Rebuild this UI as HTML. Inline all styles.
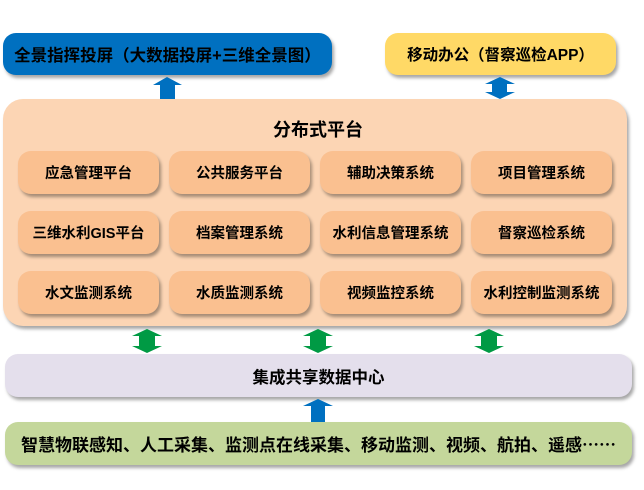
<!DOCTYPE html>
<html><head><meta charset="utf-8">
<style>
html,body{margin:0;padding:0;background:#fff;}
body{width:644px;height:490px;position:relative;overflow:hidden;font-family:"Liberation Sans","Noto Sans CJK SC",sans-serif;font-weight:bold;color:#000;}
.b{position:absolute;box-sizing:border-box;display:flex;align-items:center;justify-content:center;box-shadow:2px 3px 3px rgba(0,0,0,0.35);white-space:nowrap;}
.top1{left:3px;top:33px;width:329px;height:42px;background:#0070C0;border-radius:13px;font-size:16.5px;}
.top2{left:385px;top:33px;width:231px;height:42px;background:#FFD966;border-radius:13px;font-size:15.5px;}
.outer{left:3px;top:99px;width:624px;height:227px;background:#FCD5B4;border-radius:20px;}
.title{position:absolute;left:0;width:636px;top:116px;text-align:center;font-size:18px;}
.in{width:141px;height:43px;background:#FAC090;border-radius:13px;font-size:14.5px;}
.purple{left:5px;top:354px;width:627px;height:43px;background:#E4DFEC;border-radius:13px;font-size:16.5px;}
.green{left:5px;top:422px;width:627px;height:43px;background:#C4D79B;border-radius:13px;font-size:17px;}
.cjk{font-family:"Noto Sans CJK SC",sans-serif;}
svg{position:absolute;left:0;top:0;}
</style></head><body>
<div class="b top1">全景指挥投屏（大数据投屏+三维全景图）</div>
<div class="b top2">移动办公（督察巡检APP）</div>
<div class="b outer"></div>
<div class="title">分布式平台</div>

<div class="b in" style="left:18px;top:151px;">应急管理平台</div>
<div class="b in" style="left:169px;top:151px;">公共服务平台</div>
<div class="b in" style="left:320px;top:151px;">辅助决策系统</div>
<div class="b in" style="left:471px;top:151px;">项目管理系统</div>

<div class="b in" style="left:18px;top:211px;">三维水利GIS平台</div>
<div class="b in" style="left:169px;top:211px;">档案管理系统</div>
<div class="b in" style="left:320px;top:211px;">水利信息管理系统</div>
<div class="b in" style="left:471px;top:211px;">督察巡检系统</div>

<div class="b in" style="left:18px;top:271px;">水文监测系统</div>
<div class="b in" style="left:169px;top:271px;">水质监测系统</div>
<div class="b in" style="left:320px;top:271px;">视频监控系统</div>
<div class="b in" style="left:471px;top:271px;">水利控制监测系统</div>

<div class="b purple">集成共享数据中心</div>
<div class="b green">智慧物联感知、人工采集、监测点在线采集、移动监测、视频、航拍、遥感<span class="cjk">……</span></div>

<svg width="644" height="490" viewBox="0 0 644 490">
  <polygon points="167,77 182,85 175,85 175,99 160,99 160,85 153,85" fill="#0070C0"/>
  <polygon points="500,77 515,84 507,84 507,92 515,92 500,99 485,92 492,92 492,84 485,84" fill="#0070C0"/>
  <g fill="#009A44">
    <polygon points="147,329 162,336 155,336 155,346 162,346 147,353 132,346 139,346 139,336 132,336"/>
    <polygon points="318,329 333,336 326,336 326,346 333,346 318,353 303,346 310,346 310,336 303,336"/>
    <polygon points="489,329 504,336 497,336 497,346 504,346 489,353 474,346 481,346 481,336 474,336"/>
  </g>
  <polygon points="318,399 333,406 325,406 325,422 311,422 311,406 303,406" fill="#0070C0"/>
</svg>
</body></html>
